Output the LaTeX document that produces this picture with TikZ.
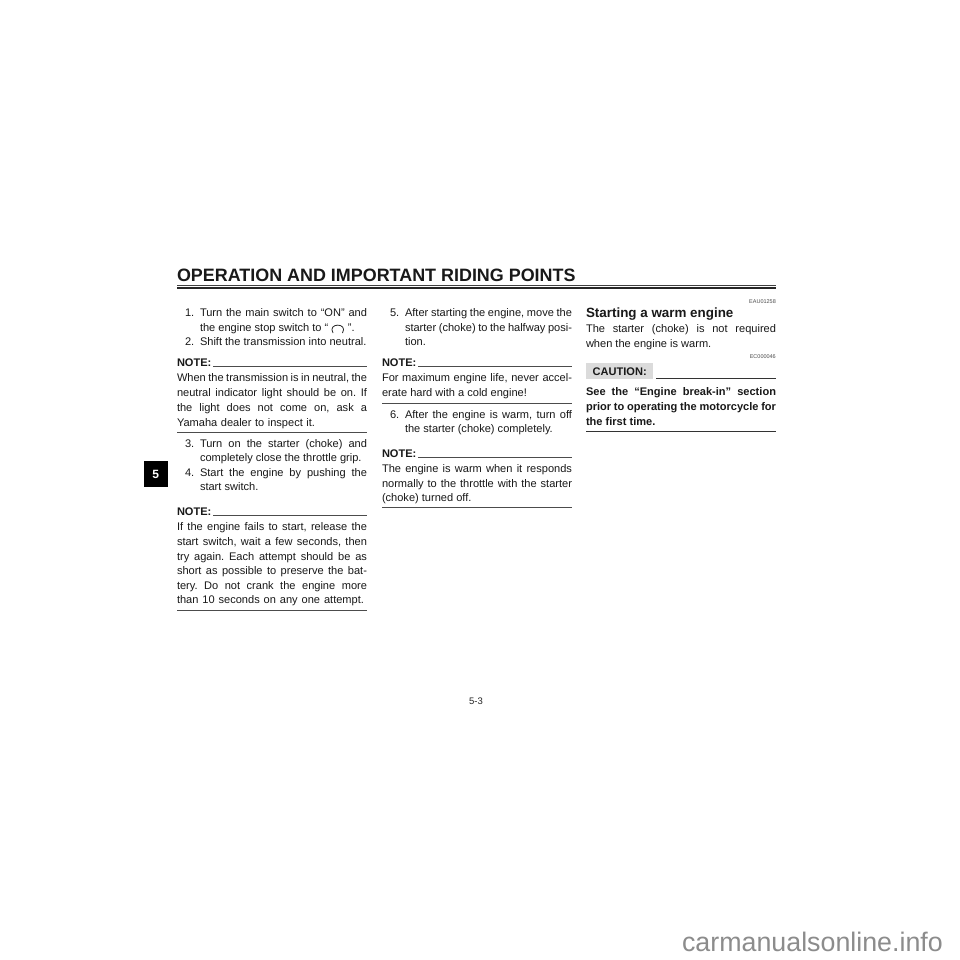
\documentclass[tikz,border=0pt]{standalone}
\usepackage{fontspec}
\setmainfont{Liberation Sans}
\frenchspacing
\newcommand{\bodyfs}{\fontsize{11.05}{14}\selectfont}
\tikzset{
  txt/.style={anchor=base west,inner sep=0pt,outer sep=0pt,text=black!90},
  rl/.style={line width=0.8pt,draw=black!70},
  rlb/.style={line width=1pt,draw=black!80}
}
\newcommand{\Ln}[4]{\node[txt] (#1) at (#2,#3) {\bodyfs #4};}
\newcommand{\Jt}[5]{\node[txt] (#1) at (#2,#3) {\bodyfs\makebox[#4pt][s]{#5}};}
\newcommand{\Jb}[5]{\node[txt] (#1) at (#2,#3) {\bodyfs\bfseries\makebox[#4pt][s]{#5}};}
\begin{document}
\begin{tikzpicture}[x=1pt,y=-1pt]
\useasboundingbox (0,0) rectangle (960,960);
\fill[white] (0,0) rectangle (960,960);
% title
\node[txt] (title) at (177,281) {\fontsize{17.92}{20}\selectfont\bfseries OPERATION AND IMPORTANT RIDING POINTS};
\coordinate (ta) at (177,285.2); \coordinate (tb) at (776,285.2);
\coordinate (tc) at (177,287.8); \coordinate (td) at (776,287.8);
\draw[line width=0.6pt,draw=black!75] (ta) -- (tb);
\draw[line width=1.7pt,draw=black!85] (tc) -- (td);
% tab
\node[fill=black,text=white,minimum width=24pt,minimum height=26pt,inner sep=0pt,font=\fontsize{12}{14}\selectfont\bfseries] (tab) at (155.7,474) {5};
% column 1
\Ln{n1}{185}{316}{1.}
\Jt{a1}{200}{316}{167}{Turn the main switch to “ON” and}
\Ln{a2}{200}{331}{the engine stop switch to “\hspace{19.5pt}”.}
\coordinate (arcA) at (333,333); \coordinate (arcB) at (342.5,333);
\draw[line width=0.8pt,draw=black!85] (arcA) .. controls (327,322.5) and (348.5,322.5) .. (arcB);
\Ln{n2}{185}{345}{2.}
\Ln{a3}{200}{345}{Shift the transmission into neutral.}
\node[txt] (nt1) at (177,366) {\bodyfs\bfseries NOTE:};
\coordinate (r1a) at (213,366.5); \coordinate (r1b) at (367,366.5);
\draw[rl] (r1a) -- (r1b);
\Jt{b1}{177}{381}{190}{When the transmission is in neutral, the}
\Jt{b2}{177}{396}{190}{neutral indicator light should be on. If}
\Jt{b3}{177}{411}{190}{the light does not come on, ask a}
\Jt{b4}{177}{426}{138}{Yamaha dealer to inspect it.}
\coordinate (r2a) at (177,432); \coordinate (r2b) at (367,432);
\draw[rl] (r2a) -- (r2b);
\Ln{n3}{185}{447}{3.}
\Jt{c1}{200}{447}{167}{Turn on the starter (choke) and}
\Ln{c2}{200}{461}{completely close the throttle grip.}
\Ln{n4}{185}{476}{4.}
\Jt{c3}{200}{476}{167}{Start the engine by pushing the}
\Ln{c4}{200}{490}{start switch.}
\node[txt] (nt2) at (177,515) {\bodyfs\bfseries NOTE:};
\coordinate (r3a) at (213,515.5); \coordinate (r3b) at (367,515.5);
\draw[rl] (r3a) -- (r3b);
\Jt{d1}{177}{530}{190}{If the engine fails to start, release the}
\Jt{d2}{177}{545}{190}{start switch, wait a few seconds, then}
\Jt{d3}{177}{560}{190}{try again. Each attempt should be as}
\Jt{d4}{177}{574}{190}{short as possible to preserve the bat-}
\Jt{d5}{177}{589}{190}{tery. Do not crank the engine more}
\Jt{d6}{177}{603}{187}{than 10 seconds on any one attempt.}
\coordinate (r4a) at (177,610); \coordinate (r4b) at (367,610);
\draw[rl] (r4a) -- (r4b);
% column 2
\Ln{n5}{390}{316}{5.}
\Jt{e1}{405}{316}{167}{After starting the engine, move the}
\Jt{e2}{405}{331}{167}{starter (choke) to the halfway posi-}
\Ln{e3}{405}{345}{tion.}
\node[txt] (nt3) at (382,366) {\bodyfs\bfseries NOTE:};
\coordinate (r5a) at (418,366.5); \coordinate (r5b) at (572,366.5);
\draw[rl] (r5a) -- (r5b);
\Jt{f1}{382}{381}{190}{For maximum engine life, never accel-}
\Ln{f2}{382}{396}{erate hard with a cold engine!}
\coordinate (r6a) at (382,403); \coordinate (r6b) at (572,403);
\draw[rl] (r6a) -- (r6b);
\Ln{n6}{390}{418}{6.}
\Jt{g1}{405}{418}{167}{After the engine is warm, turn off}
\Ln{g2}{405}{432}{the starter (choke) completely.}
\node[txt] (nt4) at (382,457) {\bodyfs\bfseries NOTE:};
\coordinate (r7a) at (418,457.5); \coordinate (r7b) at (572,457.5);
\draw[rl] (r7a) -- (r7b);
\Jt{h1}{382}{472}{190}{The engine is warm when it responds}
\Jt{h2}{382}{487}{190}{normally to the throttle with the starter}
\Ln{h3}{382}{501}{(choke) turned off.}
\coordinate (r8a) at (382,507.5); \coordinate (r8b) at (572,507.5);
\draw[rl] (r8a) -- (r8b);
% column 3
\node[anchor=base east,inner sep=0pt,text=black!70,font=\fontsize{5.5}{6}\selectfont] (eau) at (776,303.5) {EAU01258};
\node[txt,font=\fontsize{13.4}{16}\selectfont\bfseries] (start) at (586,317.5) {Starting a warm engine};
\Jt{i1}{586}{332}{190}{The starter (choke) is not required}
\Ln{i2}{586}{347}{when the engine is warm.}
\node[anchor=base east,inner sep=0pt,text=black!70,font=\fontsize{5.5}{6}\selectfont] (ec) at (776,358) {EC000046};
\node[anchor=north west,fill=black!14,minimum width=67pt,minimum height=16pt,inner sep=0pt,font=\bodyfs\bfseries,text=black!90] (caut) at (586,363) {CAUTION:};
\coordinate (r9a) at (656,378.5); \coordinate (r9b) at (776,378.5);
\draw[rlb] (r9a) -- (r9b);
\Jb{j1}{586}{395}{190}{See the “Engine break-in” section}
\Jb{j2}{586}{410}{190}{prior to operating the motorcycle for}
\node[txt] (j3) at (586,425) {\bodyfs\bfseries the first time.};
\coordinate (r10a) at (586,431); \coordinate (r10b) at (776,431);
\draw[rlb] (r10a) -- (r10b);
% footer
\node[anchor=base,inner sep=0pt,text=black!85,font=\fontsize{9.5}{11}\selectfont] (pg) at (476,704) {5-3};
\node[anchor=base east,inner sep=0pt,text=black!45,font=\fontsize{26.8}{28}\selectfont] (wm) at (943,951.5) {carmanualsonline.info};
\end{tikzpicture}
\end{document}
